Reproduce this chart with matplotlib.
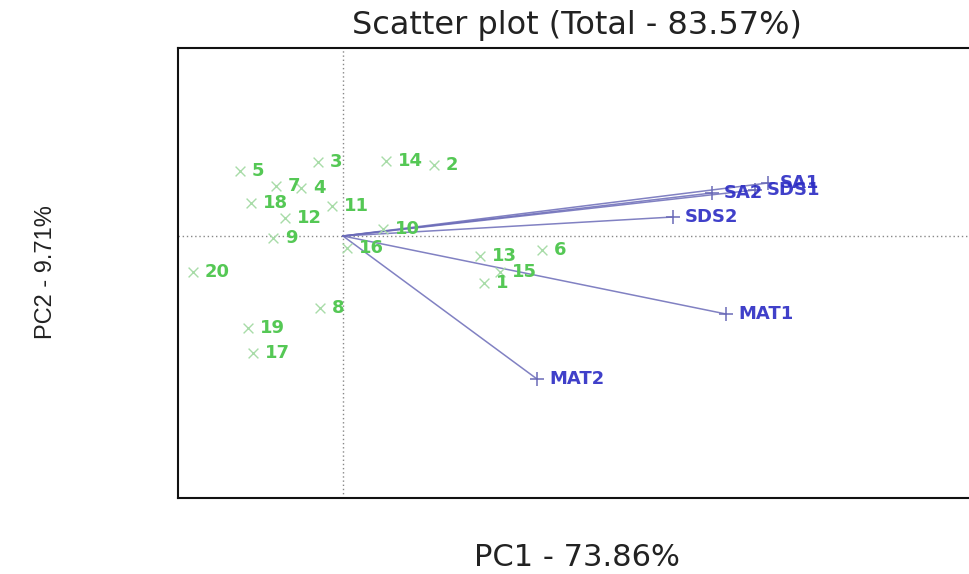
import matplotlib
matplotlib.use("Agg")
from matplotlib import pyplot as plt

# scores (samples)
amostras = ["1", "2", "3", "4", "5", "6", "7", "8", "9", "10",
            "11", "12", "13", "14", "15", "16", "17", "18", "19", "20"]
pc1 = [1.41, 0.91, -0.25, -0.42, -1.03, 1.99, -0.67, -0.23, -0.70, 0.40,
       -0.11, -0.58, 1.37, 0.43, 1.57, 0.04, -0.90, -0.92, -0.95, -1.50]
pc2 = [-0.47, 0.71, 0.74, 0.48, 0.65, -0.14, 0.50, -0.72, -0.02, 0.07,
       0.30, 0.18, -0.20, 0.75, -0.36, -0.12, -1.17, 0.33, -0.92, -0.36]

# loadings (variables)
variaveis = ["SA1", "SA2", "SDS1", "SDS2", "MAT1", "MAT2"]
load1 = [4.25, 3.69, 4.12, 3.30, 3.83, 1.94]
load2 = [0.53, 0.43, 0.46, 0.19, -0.78, -1.43]

verde = "#55c855"
azul = "#2b2bc4"
linha_azul = "#6b6bb8"

fig = plt.figure(figsize=(9.69, 5.74), dpi=100)
ax = fig.add_axes([0.1837, 0.1324, 0.8163, 0.784])

ax.axhline(0, color="#888888", linestyle=(0, (1, 2)), linewidth=1)
ax.axvline(0, color="#888888", linestyle=(0, (1, 2)), linewidth=1)

# setas das variaveis
for x, y in zip(load1, load2):
    ax.plot([0, x], [0, y], color=linha_azul, linewidth=1.1, alpha=0.85)
ax.scatter(load1, load2, marker="+", s=100, color=linha_azul, linewidths=1.1, zorder=3)
for nome, x, y in zip(variaveis, load1, load2):
    ax.text(x + 0.12, y, nome, color=azul, fontsize=13, va="center", ha="left",
            family="DejaVu Sans", fontweight="semibold", alpha=0.9)

# pontos das amostras
ax.scatter(pc1, pc2, marker="x", s=50, color="#a8dca8", linewidths=1, zorder=3)
for nome, x, y in zip(amostras, pc1, pc2):
    ax.text(x + 0.12, y, nome, color=verde, fontsize=13, va="center", ha="left",
            family="DejaVu Sans", fontweight="semibold")

ax.set_xlim(-1.65, 6.26)
ax.set_ylim(-2.62, 1.88)
ax.set_xticks([])
ax.set_yticks([])
for lado in ["left", "bottom", "top"]:
    ax.spines[lado].set_linewidth(1.5)
    ax.spines[lado].set_color("#111111")
ax.spines["right"].set_visible(False)

fig.text(0.595, 0.955, "Scatter plot (Total - 83.57%)", ha="center", va="center",
         fontsize=23, family="DejaVu Sans", color="#222222")
fig.text(0.595, 0.028, "PC1 - 73.86%", ha="center", va="center",
         fontsize=22, family="DejaVu Sans", color="#222222")
fig.text(0.047, 0.526, "PC2 - 9.71%", ha="center", va="center", rotation=90,
         fontsize=17, family="Liberation Sans", color="#222222")

fig.savefig("out.png", dpi=100, facecolor="white")
